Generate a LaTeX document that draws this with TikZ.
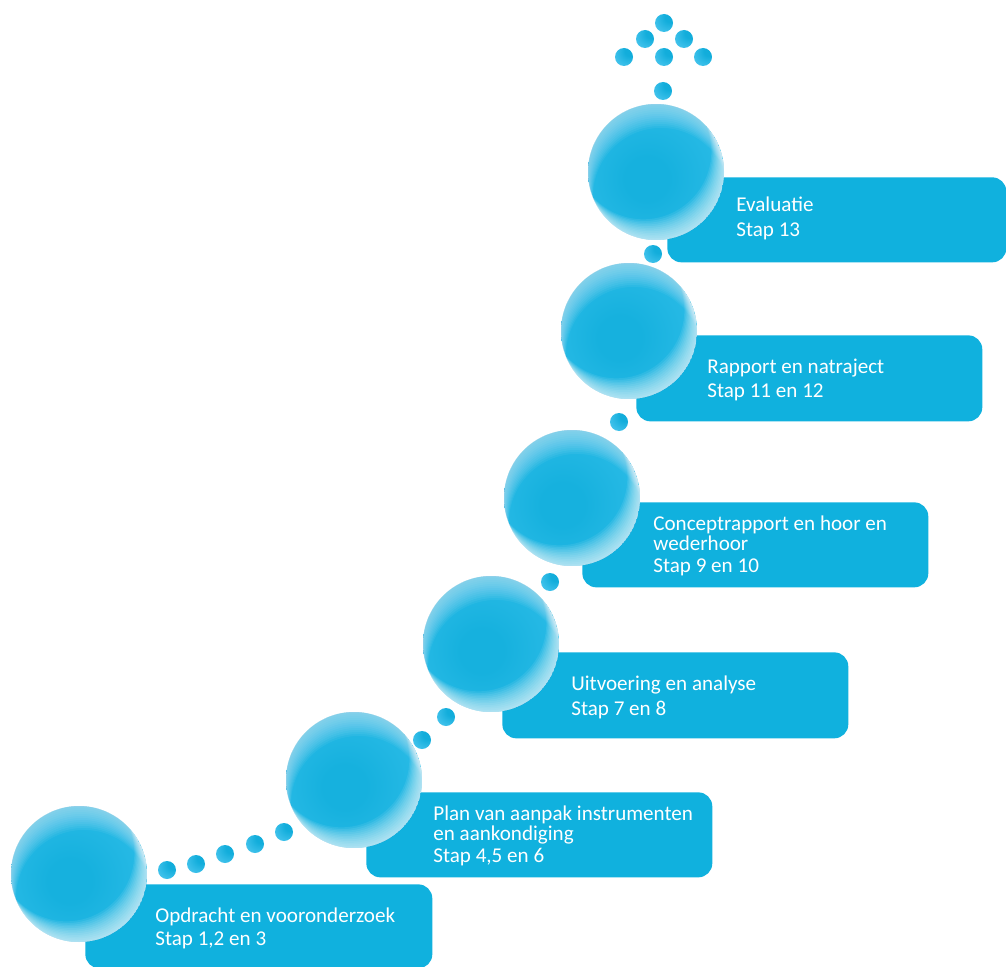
\documentclass[tikz,border=0pt]{standalone}
\usepackage{fontspec}
\setmainfont{Carlito}
\definecolor{boxblue}{RGB}{16,177,222}
\definecolor{bA}{HTML}{16B1DE}
\definecolor{bB}{HTML}{2EBDE8}
\definecolor{bC}{HTML}{4CC8F0}
\definecolor{hlTop}{HTML}{C8E8F8}
\definecolor{dA}{HTML}{12ADDB}
\definecolor{dB}{HTML}{3CC0EA}
\definecolor{dC}{HTML}{8AD8F3}
\definecolor{dD}{HTML}{EAF7FC}
\pgfdeclareradialshading{ballbase}{\pgfpoint{-4bp}{-3bp}}{color(0bp)=(bA); color(8bp)=(bA); color(32bp)=(bB); color(56bp)=(bC)}
\pgfdeclareradialshading{dotshade}{\pgfpoint{20bp}{20bp}}{color(0bp)=(dA); color(14bp)=(dA); color(36bp)=(dB); color(58bp)=(dC); color(78bp)=(dD)}
\tikzset{
  ball/.style={circle, inner sep=0pt, minimum size=2.72cm, shade, shading=ballbase,
    path picture={
      \foreach \d in {2,4,...,24}{
        \fill[hlTop, opacity=0.07, even odd rule]
          (path picture bounding box.center) circle[radius=1.36cm]
          ([shift={({0.12pt*\d},{-0.567pt*\d})}]path picture bounding box.center) circle[radius=1.36cm];
      }
      \foreach \d in {2,4,...,24}{
        \fill[white, opacity=0.08, even odd rule]
          (path picture bounding box.center) circle[radius=1.36cm]
          ([shift={({-0.30pt*\d},{0.49pt*\d})}]path picture bounding box.center) circle[radius=1.36cm];
      }
    }},
  dot/.style={circle, inner sep=0pt, minimum size=0.36cm, shade, shading=dotshade},
  stepbox/.style={rectangle, rounded corners=0.28cm, fill=boxblue, inner sep=0pt, anchor=north west},
  lbl/.style={anchor=base west, inner sep=0pt, text=white, font=\fontsize{12pt}{14pt}\selectfont},
}
\begin{document}
\begin{tikzpicture}[x=0.02cm, y=-0.02cm]
\useasboundingbox (0,0) rectangle (1006,966);
% boxes
\node[stepbox, minimum width=6.94cm, minimum height=1.68cm] (b1) at (85,884) {};
\node[stepbox, minimum width=6.92cm, minimum height=1.70cm] (b2) at (366,792) {};
\node[stepbox, minimum width=6.92cm, minimum height=1.72cm] (b3) at (502,652) {};
\node[stepbox, minimum width=6.92cm, minimum height=1.70cm] (b4) at (582,502) {};
\node[stepbox, minimum width=6.92cm, minimum height=1.72cm] (b5) at (636,335) {};
\node[stepbox, minimum width=6.78cm, minimum height=1.70cm] (b6) at (667,177) {};
% big balls
\node[ball] (c1) at (79,874) {};
\node[ball] (c2) at (354,780) {};
\node[ball] (c3) at (491,644) {};
\node[ball] (c4) at (572,498) {};
\node[ball] (c5) at (629,331) {};
\node[ball] (c6) at (656,172) {};
% small dots
\node[dot] (d1) at (167,870) {};
\node[dot] (d2) at (196,864) {};
\node[dot] (d3) at (225,854) {};
\node[dot] (d4) at (255,844) {};
\node[dot] (d5) at (284,832) {};
\node[dot] (d6) at (422,740) {};
\node[dot] (d7) at (446,717) {};
\node[dot] (d8) at (550,582) {};
\node[dot] (d9) at (619,422) {};
\node[dot] (d10) at (653,254) {};
\node[dot] (d11) at (663,91) {};
\node[dot] (a1) at (664,23) {};
\node[dot] (a2) at (645,39) {};
\node[dot] (a3) at (684,39) {};
\node[dot] (a4) at (624,57) {};
\node[dot] (a5) at (664,57) {};
\node[dot] (a6) at (703,57) {};
% texts
\node[lbl] (t1a) at (155,922) {Opdracht en vooronderzoek};
\node[lbl] (t1b) at (155,945.5) {Stap 1,2 en 3};
\node[lbl] (t2a) at (433,820) {Plan van aanpak instrumenten};
\node[lbl] (t2b) at (433,840.5) {en aankondiging};
\node[lbl] (t2c) at (433,862) {Stap 4,5 en 6};
\node[lbl] (t3a) at (571,690) {Uitvoering en analyse};
\node[lbl] (t3b) at (571,715) {Stap 7 en 8};
\node[lbl] (t4a) at (653,530.5) {Conceptrapport en hoor en};
\node[lbl] (t4b) at (653,550) {wederhoor};
\node[lbl] (t4c) at (653,572) {Stap 9 en 10};
\node[lbl] (t5a) at (707,373) {Rapport en natraject};
\node[lbl] (t5b) at (707,397) {Stap 11 en 12};
\node[lbl] (t6a) at (736,212) {Evaluatie};
\node[lbl] (t6b) at (736,236) {Stap 13};
\end{tikzpicture}
\end{document}
